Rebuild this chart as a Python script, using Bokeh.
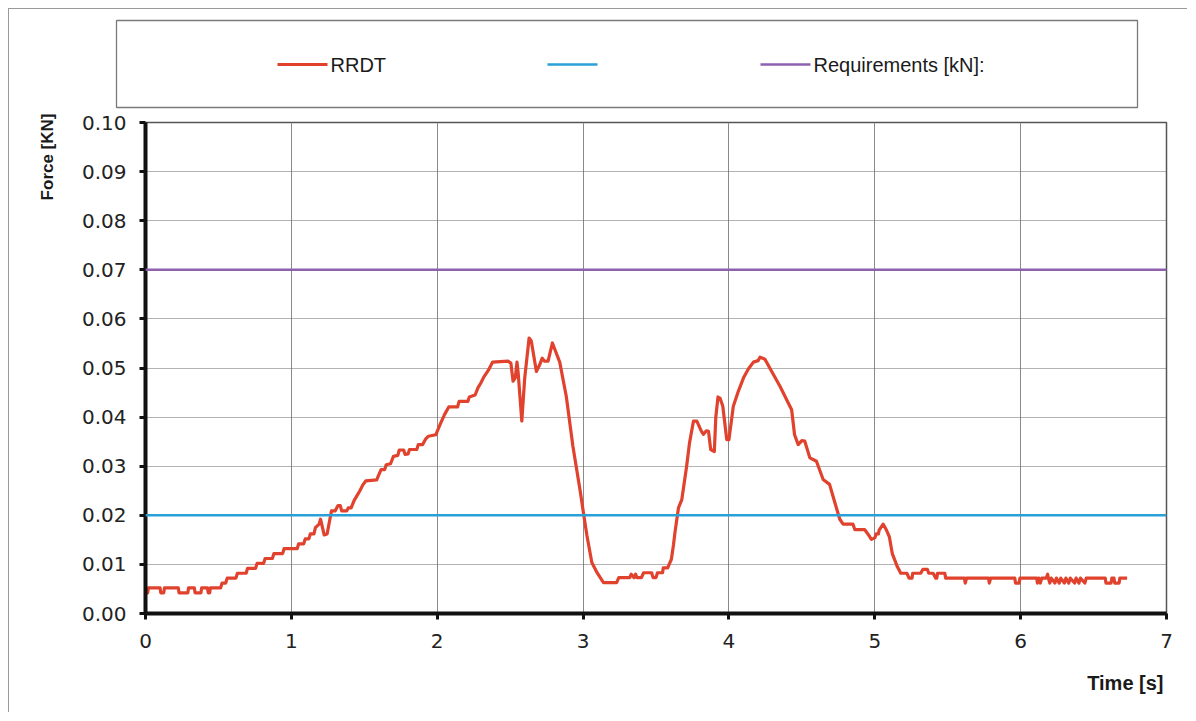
import math
from bokeh.plotting import figure
from bokeh.models import Range1d, FixedTicker, PrintfTickFormatter, Span, Title
from bokeh.layouts import column
from bokeh.embed import file_html
from bokeh.resources import INLINE
from bokeh.core.properties import value

# ---------------- data ----------------
time_s = [
    0.000, 0.015, 0.020, 0.100, 0.105, 0.125, 0.130, 0.225, 0.230, 0.290, 0.295, 0.335, 0.340,
    0.380, 0.385, 0.425, 0.430, 0.440, 0.445, 0.515,
    0.525, 0.550, 0.560, 0.620, 0.630, 0.690, 0.700, 0.755, 0.765, 0.810, 0.820, 0.870, 0.880,
    0.940, 0.950, 1.040, 1.050, 1.085, 1.095, 1.120, 1.130, 1.155, 1.165, 1.190, 1.200, 1.225,
    1.245, 1.275, 1.300, 1.320, 1.335, 1.345, 1.380, 1.390, 1.410, 1.430, 1.450, 1.470, 1.490,
    1.510, 1.585, 1.600, 1.615, 1.640, 1.650, 1.680, 1.700, 1.730, 1.740, 1.770, 1.780, 1.800,
    1.810, 1.860, 1.870, 1.900, 1.920, 1.940, 1.990, 2.020, 2.050, 2.080, 2.140, 2.150, 2.210,
    2.220, 2.260, 2.280, 2.300, 2.320, 2.350, 2.380, 2.485, 2.505, 2.520, 2.535, 2.547, 2.555,
    2.580, 2.600, 2.630, 2.645, 2.680, 2.700, 2.720, 2.735, 2.760, 2.790, 2.810, 2.840, 2.885,
    2.930, 2.980, 3.005, 3.027, 3.060, 3.096, 3.140, 3.230, 3.245, 3.320, 3.330, 3.350, 3.360,
    3.370, 3.400, 3.415, 3.470, 3.480, 3.500, 3.510, 3.545, 3.550, 3.580, 3.590, 3.605, 3.620,
    3.630, 3.654, 3.677, 3.710, 3.730, 3.757, 3.780, 3.810, 3.825, 3.845, 3.860, 3.875, 3.900,
    3.910, 3.925, 3.940, 3.958, 3.985, 4.000, 4.030, 4.065, 4.100, 4.133, 4.168, 4.200, 4.213,
    4.247, 4.280, 4.350, 4.395, 4.430, 4.450, 4.475, 4.500, 4.520, 4.555, 4.600, 4.646, 4.690,
    4.726, 4.760, 4.783, 4.850, 4.863, 4.930, 4.950, 4.977, 5.000, 5.010, 5.025, 5.030, 5.057,
    5.080, 5.100, 5.120, 5.155, 5.178, 5.220, 5.235, 5.255, 5.260, 5.315, 5.330, 5.360, 5.370,
    5.400, 5.418, 5.425, 5.430, 5.480, 5.486, 5.615, 5.620, 5.630, 5.780, 5.785, 5.795, 5.960,
    5.965, 5.990, 5.995, 6.110, 6.115, 6.125, 6.135, 6.145, 6.175, 6.185, 6.190, 6.200, 6.210,
    6.235, 6.245, 6.265, 6.275, 6.300, 6.310, 6.330, 6.340, 6.370, 6.380, 6.400, 6.410, 6.440,
    6.450, 6.580, 6.585, 6.620, 6.625, 6.640, 6.645, 6.675, 6.680, 6.730,
]
force_kn = [
    0.0040, 0.0042, 0.0052, 0.0052, 0.0042, 0.0042, 0.0052, 0.0052, 0.0042, 0.0042, 0.0052, 0.0052, 0.0042,
    0.0042, 0.0052, 0.0052, 0.0042, 0.0042, 0.0052, 0.0052,
    0.0062, 0.0062, 0.0072, 0.0072, 0.0082, 0.0082, 0.0092, 0.0092, 0.0102, 0.0102, 0.0112, 0.0112, 0.0122,
    0.0122, 0.0132, 0.0132, 0.0142, 0.0142, 0.0152, 0.0152, 0.0162, 0.0162, 0.0175, 0.0182, 0.0192, 0.0160,
    0.0162, 0.0209, 0.0209, 0.0220, 0.0220, 0.0209, 0.0209, 0.0215, 0.0215, 0.0230, 0.0240, 0.0250, 0.0262,
    0.0270, 0.0272, 0.0283, 0.0293, 0.0293, 0.0303, 0.0305, 0.0320, 0.0322, 0.0333, 0.0333, 0.0324, 0.0325,
    0.0334, 0.0334, 0.0344, 0.0344, 0.0355, 0.0361, 0.0364, 0.0385, 0.0405, 0.0421, 0.0421, 0.0432, 0.0432,
    0.0441, 0.0445, 0.0460, 0.0470, 0.0482, 0.0495, 0.0512, 0.0514, 0.0510, 0.0473, 0.0480, 0.0512, 0.0490,
    0.0392, 0.0480, 0.0561, 0.0555, 0.0493, 0.0505, 0.0520, 0.0514, 0.0514, 0.0551, 0.0535, 0.0512, 0.0442,
    0.0341, 0.0250, 0.0200, 0.0158, 0.0104, 0.0083, 0.0063, 0.0063, 0.0073, 0.0073, 0.0080, 0.0073, 0.0080,
    0.0073, 0.0073, 0.0083, 0.0083, 0.0073, 0.0073, 0.0083, 0.0083, 0.0093, 0.0093, 0.0100, 0.0110, 0.0140,
    0.0165, 0.0215, 0.0232, 0.0300, 0.0348, 0.0392, 0.0392, 0.0372, 0.0365, 0.0372, 0.0371, 0.0334, 0.0330,
    0.0400, 0.0441, 0.0438, 0.0422, 0.0354, 0.0354, 0.0422, 0.0453, 0.0480, 0.0498, 0.0512, 0.0515, 0.0522,
    0.0518, 0.0500, 0.0463, 0.0436, 0.0415, 0.0364, 0.0344, 0.0352, 0.0351, 0.0317, 0.0310, 0.0273, 0.0263,
    0.0226, 0.0192, 0.0182, 0.0182, 0.0171, 0.0171, 0.0163, 0.0151, 0.0154, 0.0162, 0.0162, 0.0170, 0.0182,
    0.0170, 0.0156, 0.0122, 0.0095, 0.0082, 0.0082, 0.0072, 0.0072, 0.0082, 0.0082, 0.0090, 0.0090, 0.0082,
    0.0082, 0.0072, 0.0072, 0.0082, 0.0082, 0.0072, 0.0072, 0.0062, 0.0072, 0.0072, 0.0062, 0.0072, 0.0072,
    0.0062, 0.0062, 0.0072, 0.0072, 0.0062, 0.0072, 0.0062, 0.0072, 0.0072, 0.0080, 0.0072, 0.0062, 0.0072,
    0.0062, 0.0072, 0.0062, 0.0072, 0.0062, 0.0072, 0.0062, 0.0072, 0.0062, 0.0072, 0.0062, 0.0072, 0.0062,
    0.0072, 0.0072, 0.0062, 0.0062, 0.0072, 0.0072, 0.0062, 0.0062, 0.0072, 0.0072,
]
lower_line_kn = 0.02
requirement_kn = 0.07
legend_labels = ["RRDT", "", "Requirements [kN]:"]
x_ticks = [0, 1, 2, 3, 4, 5, 6, 7]
y_ticks = [0.00, 0.01, 0.02, 0.03, 0.04, 0.05, 0.06, 0.07, 0.08, 0.09, 0.10]
x_title = "Time [s]"
y_title = "Force [KN]"

RED = "#e0422d"
BLUE = "#2aa0d6"
PURPLE = "#8c62b0"
W = 1178

# ---------------- legend strip ----------------
leg = figure(width=W, height=100, x_range=Range1d(0, W), y_range=Range1d(100, 0),
             output_backend="svg", toolbar_location=None,
             min_border_left=0, min_border_right=0, min_border_top=0, min_border_bottom=0,
             x_axis_type=None, y_axis_type=None)
leg.frame_align = False
leg.outline_line_color = None
leg.background_fill_color = "white"
leg.border_fill_color = "white"
leg.quad(left=[107], right=[1128], top=[11], bottom=[98], fill_alpha=0,
         line_color="#7a7a7a", line_width=1.3)
leg_x0 = [268, 538, 751]
leg_colors = [RED, BLUE, PURPLE]
for x0, c, lab in zip(leg_x0, leg_colors, legend_labels):
    leg.line(x=[x0, x0 + 50], y=[55, 55], line_color=c, line_width=3 if c == RED else 2.5)
    if lab:
        leg.text(x=[x0 + 53], y=[55], text=[lab], text_font=value("Liberation Sans"),
                 text_font_size="20px", text_baseline="middle", text_align="left",
                 text_color="#1a1a1a")

# ---------------- main chart ----------------
p = figure(width=W, height=603, x_range=Range1d(0, 7), y_range=Range1d(0, 0.1),
           output_backend="svg", toolbar_location=None,
           min_border_left=136, min_border_right=21, min_border_top=13, min_border_bottom=98)
p.background_fill_color = "white"
p.border_fill_color = "white"
p.outline_line_color = "#555555"
p.outline_line_width = 1.5

p.xaxis.ticker = FixedTicker(ticks=x_ticks)
p.yaxis.ticker = FixedTicker(ticks=y_ticks)
p.yaxis.formatter = PrintfTickFormatter(format="%.2f")
for ax in (p.xaxis, p.yaxis):
    ax.axis_line_width = 4
    ax.axis_line_color = "#111111"
    ax.major_tick_line_width = 3
    ax.major_tick_line_color = "#111111"
    ax.major_tick_in = 0
    ax.major_tick_out = 6
    ax.minor_tick_line_color = None
    ax.major_label_text_font = "DejaVu Sans"
    ax.major_label_text_font_size = "20px"
    ax.major_label_text_color = "#222222"
p.yaxis.major_label_standoff = 13
p.xaxis.major_label_standoff = 14

p.xgrid.grid_line_color = "#8a8a8a"
p.xgrid.grid_line_width = 1
p.ygrid.grid_line_color = "#666666"
p.ygrid.grid_line_width = 1.2
p.ygrid.grid_line_dash = "1 1"

p.add_layout(Span(location=lower_line_kn, dimension="width", line_color=BLUE, line_width=2.5))
p.add_layout(Span(location=requirement_kn, dimension="width", line_color=PURPLE, line_width=2.5))
p.line(x=time_s, y=force_kn, line_color=RED, line_width=3.2, line_join="round")

p.add_layout(Title(text=x_title, align="right", text_font="Liberation Sans",
                   text_font_style="bold", text_font_size="20px", text_color="#1a1a1a",
                   standoff=38, offset=3), "below")
p.add_layout(Title(text=y_title, align="right", text_font="Liberation Sans",
                   text_font_style="bold", text_font_size="17px", text_color="#1a1a1a",
                   standoff=43, offset=-9), "left")

layout = column(leg, p, spacing=0, styles={"margin-left": "8px", "margin-top": "8px",
                                            "border-top": "1px solid #9a9a9a",
                                            "border-left": "1px solid #9a9a9a"})
open("out.html", "w").write(file_html(layout, INLINE))
